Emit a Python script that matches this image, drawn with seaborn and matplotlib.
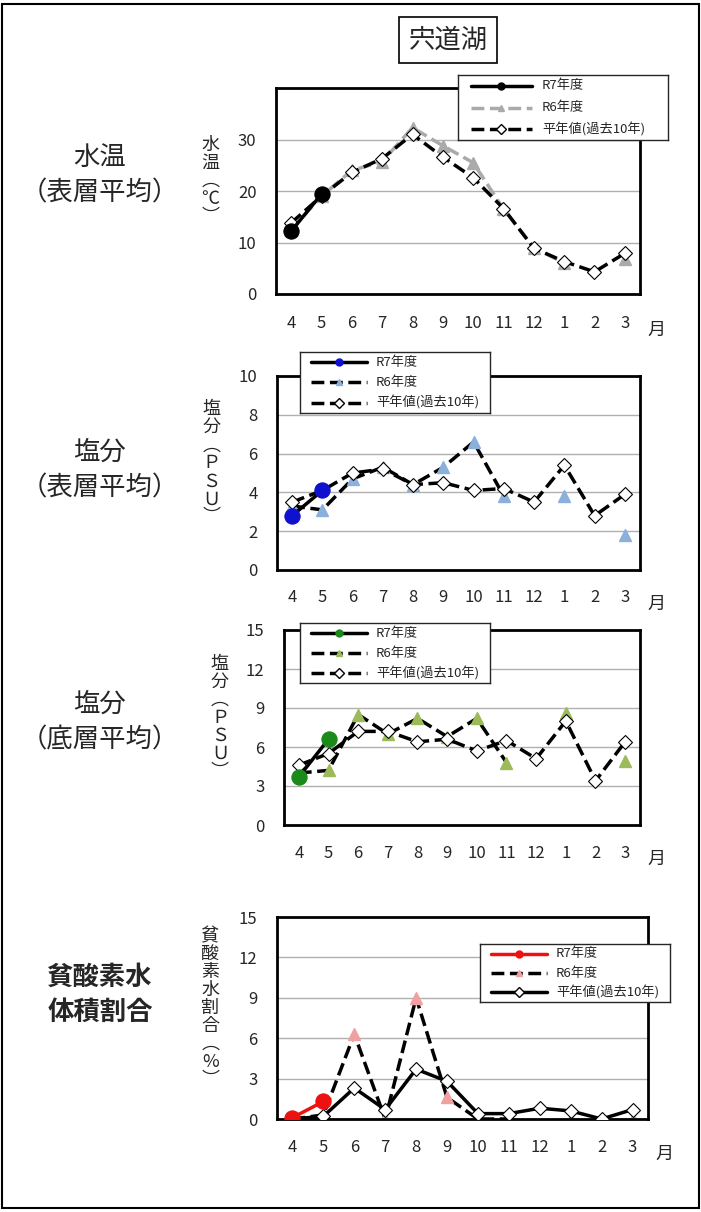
import numpy as np
import pandas as pd
import matplotlib
matplotlib.use("Agg")
import matplotlib.pyplot as plt
import seaborn as sns
from matplotlib.patches import Rectangle

sns.set_style("white")
plt.rcParams["font.family"] = ["Noto Sans CJK JP", "DejaVu Sans"]

months = ["4", "5", "6", "7", "8", "9", "10", "11", "12", "1", "2", "3"]
nan = np.nan

# 水温
temp_r7 = [12.2, 19.4]
temp_r6 = [12.5, 19.0, 24.0, 25.7, 32.3, 28.8, 25.5, 16.5, 9.0, 6.0, nan, 6.8]
temp_avg = [13.8, 19.0, 23.6, 26.3, 31.0, 26.6, 22.6, 16.6, 8.9, 6.3, 4.3, 7.9]
# 塩分 表層
sal_s_r7 = [2.8, 4.1]
sal_s_r6 = [3.3, 3.1, 4.7, 5.3, 4.4, 5.3, 6.6, 3.8, nan, 3.8, nan, 1.8]
sal_s_avg = [3.5, 4.1, 5.0, 5.2, 4.4, 4.5, 4.1, 4.2, 3.5, 5.4, 2.8, 3.9]
# 塩分 底層
sal_b_r7 = [3.7, 6.6]
sal_b_r6 = [4.0, 4.2, 8.5, 7.0, 8.2, 6.8, 8.2, 4.8, nan, 8.6, nan, 4.9]
sal_b_avg = [4.6, 5.5, 7.2, 7.2, 6.4, 6.6, 5.7, 6.5, 5.1, 8.0, 3.4, 6.4]
# 貧酸素水体積割合
ox_r7 = [0.1, 1.3]
ox_r6 = [0.0, 0.3, 6.3, 0.0, 9.0, 1.6, 0.0, 0.0, nan, 0.0, nan, 0.0]
ox_avg = [0.0, 0.2, 2.3, 0.7, 3.7, 2.8, 0.4, 0.4, 0.8, 0.6, 0.0, 0.7]

W, H = 701, 1212
fig = plt.figure(figsize=(W / 100, H / 100), dpi=100)
fig.patches.append(Rectangle((0.003, 0.003), 0.994, 0.994, transform=fig.transFigure,
                             fill=False, ec="black", lw=1.5))
fig.text(448 / W, 1 - 40 / H, "宍道湖", ha="center", va="center", fontsize=19,
         bbox=dict(boxstyle="square,pad=0.35", fc="white", ec="black", lw=1.2))

panels = [
    dict(box=(276, 88, 640, 294), ylim=(0, 40), ticks=[0, 10, 20, 30], r7=temp_r7, r6=temp_r6, avg=temp_avg,
         c7="black", c6="#aaaaaa", l6color="#aaaaaa", avgls="--", label="水温\n（表層平均）", ly=175,
         ylab="水\n温\n︵\n℃\n︶", leg=(458, 75, 668, 140)),
    dict(box=(277, 376, 640, 570), ylim=(0, 10), ticks=[0, 2, 4, 6, 8, 10], r7=sal_s_r7, r6=sal_s_r6, avg=sal_s_avg,
         c7="#1010d0", c6="#8cb0dc", l6color="black", avgls="--", label="塩分\n（表層平均）", ly=470,
         ylab="塩\n分\n︵\nＰ\nＳ\nＵ\n︶", leg=(300, 352, 490, 413)),
    dict(box=(284, 630, 640, 825), ylim=(0, 15), ticks=[0, 3, 6, 9, 12, 15], r7=sal_b_r7, r6=sal_b_r6, avg=sal_b_avg,
         c7="#1a8a1a", c6="#9bbb59", l6color="black", avgls="--", label="塩分\n（底層平均）", ly=722,
         ylab="塩\n分\n︵\nＰ\nＳ\nＵ\n︶", leg=(300, 623, 490, 683)),
    dict(box=(277, 917, 648, 1119), ylim=(0, 15), ticks=[0, 3, 6, 9, 12, 15], r7=ox_r7, r6=ox_r6, avg=ox_avg,
         c7="#ee1111", c6="#f0a0a0", l6color="black", avgls="-", label="貧酸素水\n体積割合", ly=995,
         ylab="貧\n酸\n素\n水\n割\n合\n︵\n%\n︶", leg=(480, 944, 670, 1002)),
]

x = np.arange(len(months))
for p in panels:
    x0, y0, x1, y1 = p["box"]
    ax = fig.add_axes([x0 / W, 1 - y1 / H, (x1 - x0) / W, (y1 - y0) / H])
    r7line = "#ee1111" if p["c7"] == "#ee1111" else "black"
    # 平年値
    df_avg = pd.DataFrame({"x": x, "y": p["avg"]})
    sns.lineplot(data=df_avg, x="x", y="y", ax=ax, color="black", lw=2.5, linestyle=p["avgls"],
                 marker="D", markersize=7, markerfacecolor="white", markeredgecolor="black",
                 markeredgewidth=0.8, zorder=3)
    # R6
    ax.plot(x, p["r6"], color=p["l6color"], lw=2.5, linestyle="--", marker="^", markersize=8,
            markerfacecolor=p["c6"], markeredgecolor=p["c6"], zorder=2)
    # R7
    df7 = pd.DataFrame({"x": x[:len(p["r7"])], "y": p["r7"]})
    sns.lineplot(data=df7, x="x", y="y", ax=ax, color=r7line, lw=2.5, marker="o", markersize=11,
                 markerfacecolor=p["c7"], markeredgecolor=p["c7"], zorder=4)
    ax.set_xlim(-0.5, 11.5)
    ax.set_ylim(*p["ylim"])
    ax.set_yticks(p["ticks"])
    ax.set_xticks(np.arange(-0.5, 12, 1))
    ax.set_xticklabels([])
    ax.tick_params(axis="x", direction="in", length=5, width=0.8)
    ax.tick_params(axis="y", length=0, labelsize=12, pad=14)
    for i, m in enumerate(months):
        ax.text(i, -0.1, m, transform=ax.get_xaxis_transform(), ha="center", va="top", fontsize=12)
    ax.text(1.045, -0.13, "月", transform=ax.transAxes, ha="center", va="top", fontsize=13)
    ax.grid(axis="y", color="#b0b0b0", lw=1)
    for s in ax.spines.values():
        s.set_linewidth(2)
        s.set_color("black")
    ax.set_xlabel("")
    ax.set_ylabel("")
    ax.text(-0.18, 0.55, p["ylab"], transform=ax.transAxes, ha="center", va="center",
            fontsize=13, linespacing=1.0)
    fig.text(100 / W, 1 - p["ly"] / H, p["label"], ha="center", va="center", fontsize=19,
             linespacing=1.4, weight="bold" if "貧" in p["label"] else "normal")
    # legend box
    lx0, ly0, lx1, ly1 = p["leg"]
    lax = fig.add_axes([lx0 / W, 1 - ly1 / H, (lx1 - lx0) / W, (ly1 - ly0) / H])
    lax.set_xlim(0, 1)
    lax.set_ylim(0, 3)
    lax.set_xticks([])
    lax.set_yticks([])
    for s in lax.spines.values():
        s.set_linewidth(1)
    rows = [("R7年度", r7line, "-", "o", p["c7"], p["c7"]),
            ("R6年度", p["l6color"], "--", "^", p["c6"], p["c6"]),
            ("平年値(過去10年)", "black", p["avgls"], "D", "white", "black")]
    for k, (t, lc, ls, mk, mf, me) in enumerate(rows):
        yy = 2.5 - k
        lax.plot([0.06, 0.35], [yy, yy], color=lc, lw=2.5, linestyle=ls)
        lax.plot([0.205], [yy], marker=mk, markersize=5, markerfacecolor=mf, markeredgecolor=me, lw=0)
        lax.text(0.4, yy, t, va="center", fontsize=9.5)

fig.savefig("out.png", dpi=100)
